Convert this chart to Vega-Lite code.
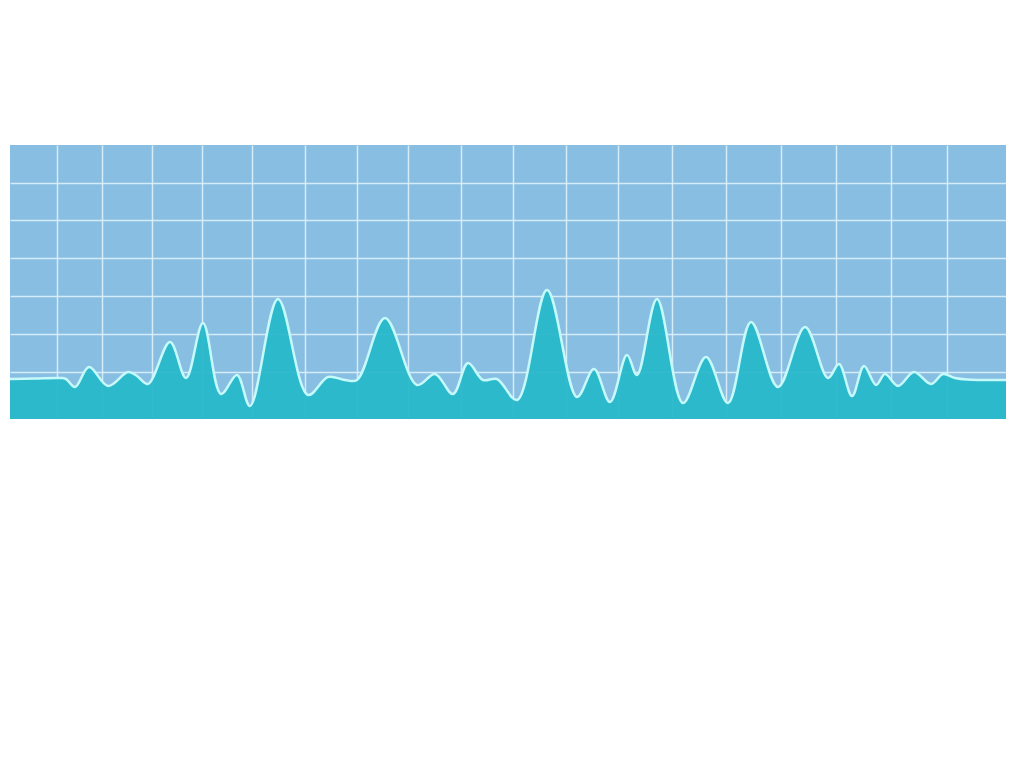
{
  "$schema": "https://vega.github.io/schema/vega-lite/v6.json",
  "width": 996,
  "height": 274,
  "autosize": {"type": "none"},
  "padding": {"left": 10, "top": 145, "right": 18, "bottom": 349},
  "background": "#ffffff",
  "view": {"fill": "#88BEE2", "stroke": null},
  "config": {
    "axis": {"gridColor": "#DDF1FA", "gridWidth": 1.5, "gridOpacity": 0.9}
  },
  "data": {
    "values": [
      {"t": 0, "v": 40},
      {"t": 25, "v": 40.5},
      {"t": 50, "v": 41},
      {"t": 56, "v": 40},
      {"t": 65, "v": 32},
      {"t": 79, "v": 52},
      {"t": 98, "v": 33},
      {"t": 118, "v": 47},
      {"t": 127, "v": 43},
      {"t": 138, "v": 35},
      {"t": 160, "v": 77},
      {"t": 176, "v": 41},
      {"t": 193, "v": 96},
      {"t": 211, "v": 25},
      {"t": 227, "v": 44},
      {"t": 240, "v": 13},
      {"t": 268, "v": 120},
      {"t": 298, "v": 24},
      {"t": 318, "v": 42},
      {"t": 335, "v": 39},
      {"t": 347, "v": 39},
      {"t": 375, "v": 101},
      {"t": 407, "v": 34},
      {"t": 425, "v": 45},
      {"t": 443, "v": 25},
      {"t": 458, "v": 56},
      {"t": 473, "v": 39},
      {"t": 487, "v": 40},
      {"t": 507, "v": 19},
      {"t": 537, "v": 129},
      {"t": 567, "v": 22},
      {"t": 584, "v": 50},
      {"t": 600, "v": 17},
      {"t": 617, "v": 64},
      {"t": 627, "v": 44},
      {"t": 647, "v": 120},
      {"t": 673, "v": 16},
      {"t": 696, "v": 62},
      {"t": 718, "v": 16},
      {"t": 741, "v": 97},
      {"t": 768, "v": 32},
      {"t": 795, "v": 92},
      {"t": 818, "v": 41},
      {"t": 829, "v": 55},
      {"t": 842, "v": 23},
      {"t": 854, "v": 53},
      {"t": 866, "v": 34},
      {"t": 875, "v": 45},
      {"t": 888, "v": 33},
      {"t": 904, "v": 47},
      {"t": 921, "v": 35},
      {"t": 933, "v": 45},
      {"t": 945, "v": 41},
      {"t": 957, "v": 39.5},
      {"t": 996, "v": 39}
    ]
  },
  "mark": {
    "type": "area",
    "interpolate": "catmull-rom",
    "color": "#2AB8CB",
    "fillOpacity": 0.96,
    "line": {"color": "#C6FAFA", "strokeWidth": 2.5}
  },
  "encoding": {
    "x": {
      "field": "t",
      "type": "quantitative",
      "scale": {"domain": [0, 996], "nice": false, "zero": false},
      "axis": {
        "title": null, "labels": false, "ticks": false, "domain": false, "grid": true,
        "values": [47, 92, 142, 192, 242, 295, 347, 398, 451, 503, 556, 608, 662, 716, 771, 826, 881, 937]
      }
    },
    "y": {
      "field": "v",
      "type": "quantitative",
      "scale": {"domain": [0, 274], "nice": false},
      "axis": {
        "title": null, "labels": false, "ticks": false, "domain": false, "grid": true,
        "values": [47, 85, 123, 161, 199, 236]
      }
    }
  }
}
